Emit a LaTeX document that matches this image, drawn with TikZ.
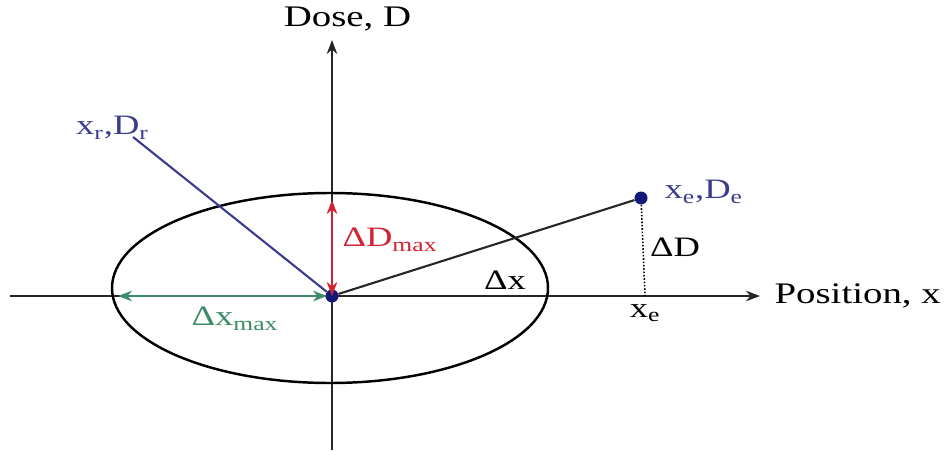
\documentclass[tikz,border=0pt]{standalone}
\usepackage{fontspec}
\setmainfont[FakeStretch=1.3]{Liberation Serif}
\usetikzlibrary{positioning,arrows.meta,calc}
\definecolor{dosered}{RGB}{210,35,50}
\definecolor{dosegreen}{RGB}{60,140,105}
\definecolor{dosenavy}{RGB}{60,60,140}
\definecolor{dotblue}{RGB}{20,25,120}
\tikzset{
  >={Stealth[length=2.8mm]},
  axis/.style={->,line width=1.3pt,black!85},
  axlbl/.style={font=\fontsize{17}{19}\selectfont,inner sep=1pt},
  ptlbl/.style={font=\fontsize{16}{18}\selectfont,inner sep=1pt},
  ptdot/.style={circle,fill=dotblue,inner sep=0pt,minimum size=2.6mm},
  span/.style={<->,line width=1.2pt},
  vec/.style={line width=1.2pt},
}
\begin{document}
\begin{tikzpicture}
  \useasboundingbox (0,0) rectangle (19,9);
  % axes
  \coordinate (xl) at (0.2,3.08);
  \coordinate (xr) at (15.2,3.08);
  \coordinate (yb) at (6.64,0);
  \coordinate (yt) at (6.64,8.2);
  \draw[axis] (xl) -- (xr);
  \draw[axis] (yb) -- (yt);
  \node[axlbl,anchor=west] (posx) at (15.45,3.08) {Position, x};
  \node[axlbl] (dose) at (6.95,8.62) {Dose, D};
  % tolerance ellipse
  \draw[line width=1.4pt] (6.6,3.24) ellipse (4.36cm and 1.9cm);
  \node[ptdot] (o) at (6.64,3.08) {};
  \node[ptdot] (pe) at (12.82,5.04) {};
  \coordinate (dtop) at (6.64,5.0);
  \coordinate (xmin) at (2.36,3.08);
  \coordinate (xe) at (12.9,3.08);
  \coordinate (rstart) at (2.66,6.26);
  % vectors
  \draw[vec,dosenavy] (rstart) -- (o);
  \draw[vec,black!85] (o) -- (pe);
  \draw[span,dosered] (o.center) -- (dtop);
  \draw[span,dosegreen] (xmin) -- ($(o.center)+(-0.1,0)$);
  \draw[densely dotted,line width=0.9pt] (pe) -- (xe);
  % labels
  \node[ptlbl,dosenavy] (lr) at (2.25,6.44) {x\textsubscript{r},D\textsubscript{r}};
  \node[ptlbl,dosenavy,anchor=west] (le) at (13.25,5.16) {x\textsubscript{e},D\textsubscript{e}};
  \node[ptlbl,dosered] (ldmax) at (7.8,4.2) {ΔD\textsubscript{max}};
  \node[ptlbl,dosegreen] (lxmax) at (4.7,2.62) {Δx\textsubscript{max}};
  \node[ptlbl] (ldd) at (13.5,4.06) {ΔD};
  \node[ptlbl] (lxe) at (12.9,2.74) {x\textsubscript{e}};
  \node[ptlbl] (ldx) at (10.1,3.4) {Δx};
\end{tikzpicture}
\end{document}
